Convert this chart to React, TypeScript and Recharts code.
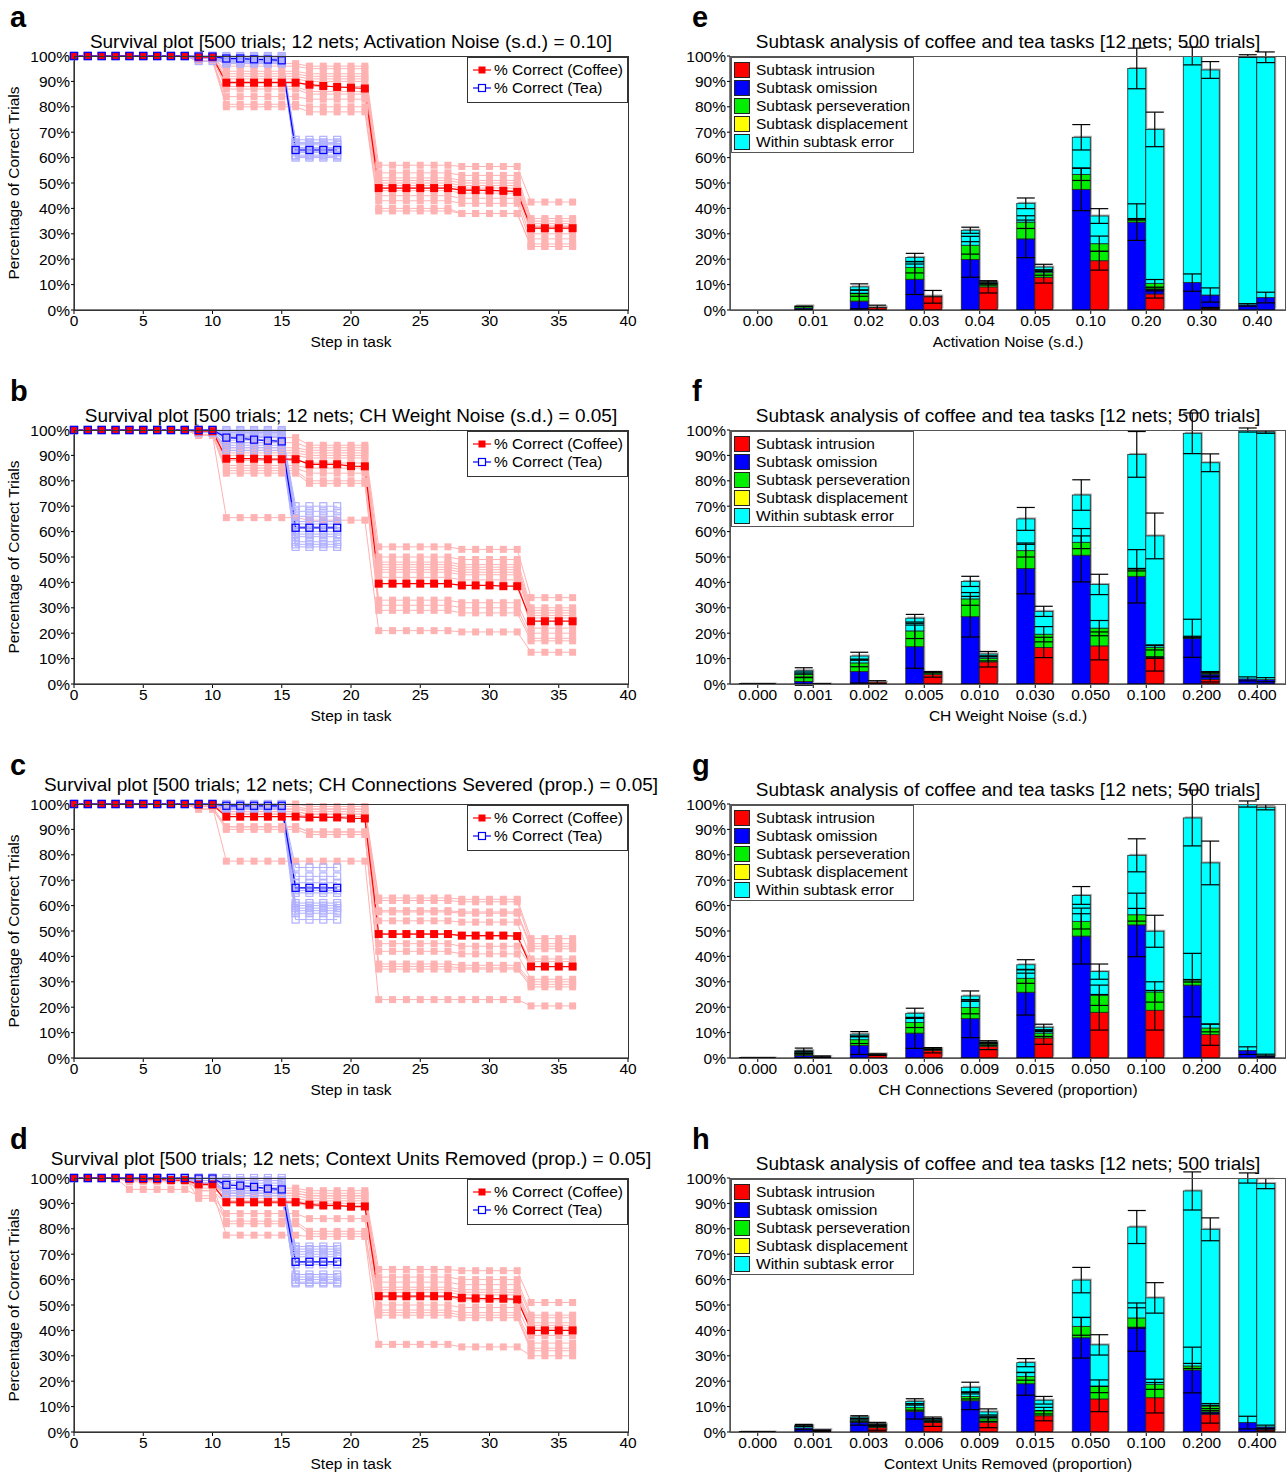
import React from 'react';
import { LineChart, Line, XAxis, YAxis, BarChart, Bar, ErrorBar } from 'recharts';

const FONT = '"Liberation Sans", Arial, Helvetica, sans-serif';
const ROW_H = 374;
const TICK_FS = 15.5;
const TITLE_FS = 19;

// ---------- shared axis data ----------
const stepTicks = [0, 5, 10, 15, 20, 25, 30, 35, 40];
const pctTicks = [0, 10, 20, 30, 40, 50, 60, 70, 80, 90, 100];

// segment start steps for the individual-net step curves
const coffeeSegStarts = [0, 4, 9, 11, 17, 22, 28, 33];
const teaSegStarts = [0, 9, 11, 16];
const COFFEE_STEPS = 37;
const TEA_STEPS = 20;

// ---------- survival plot data ----------
const aCoffeeMean = [100, 100, 100, 100, 100, 100, 100, 100, 100, 99.5, 99.5, 89.5, 89.5, 89.5, 89.5, 89.5, 89.5, 88.7, 88.2, 87.8, 87.5, 87.2, 48, 48, 48, 48, 48, 48, 47.2, 47.2, 47.1, 46.9, 46.5, 32.2, 32.2, 32.2, 32.2];
const aTeaMean = [100, 100, 100, 100, 100, 100, 100, 100, 100, 99.8, 99.8, 99, 99, 98.7, 98.6, 98.3, 63, 63, 63, 63];
const aCoffeeNets = [
  [100, 100, 100, 97, 96, 57, 56.5, 42.5],
  [100, 100, 100, 96, 95, 54, 53, 36],
  [100, 100, 100, 94, 93, 52, 51, 35],
  [100, 100, 100, 93, 92, 51, 50, 34],
  [100, 100, 99, 92, 91, 50, 49, 33],
  [100, 100, 100, 91, 90, 49, 48, 33],
  [100, 100, 99, 90, 88, 48, 47, 32],
  [100, 100, 100, 88, 86, 47, 46, 30],
  [100, 100, 99, 87, 85, 45, 44, 28],
  [100, 100, 98, 84, 83, 43, 42, 26],
  [100, 100, 99, 81, 80, 40, 38, 25],
  [100, 100, 98, 80, 78, 39, 38, 25],
];
const aTeaNets = [
  [100, 100, 100, 67], [100, 100, 99.5, 66], [100, 100, 99, 65.5], [100, 99.5, 99, 65],
  [100, 100, 99, 64], [100, 99, 98.5, 63.5], [100, 100, 98, 63], [100, 99, 98, 62.5],
  [100, 100, 97.5, 62], [100, 99, 97, 61], [100, 100, 99, 60.5], [100, 98, 98, 60],
];

const bCoffeeMean = [100, 100, 100, 100, 100, 100, 100, 100, 100, 99.5, 99.5, 88.7, 88.7, 88.7, 88.5, 88.5, 88.5, 86.5, 86.5, 86.5, 85.8, 85.7, 39.5, 39.5, 39.5, 39.5, 39.5, 39.5, 38.8, 38.8, 38.8, 38.5, 38.5, 24.7, 24.7, 24.7, 24.7];
const bTeaMean = [100, 100, 100, 100, 100, 100, 100, 100, 100, 100, 100, 97, 96.7, 96.2, 95.8, 95.5, 61.5, 61.5, 61.5, 61.5];
const bCoffeeNets = [
  [100, 100, 100, 97, 94, 54, 53, 34],
  [100, 100, 100, 95, 93, 50, 49, 30],
  [100, 100, 99, 93, 92, 48, 47, 29],
  [100, 100, 100, 92, 91, 47, 46, 28],
  [100, 100, 99, 91, 90, 46, 45, 27],
  [100, 100, 98, 90, 89, 45, 44, 26],
  [100, 100, 99, 88, 87, 44, 43, 25],
  [100, 100, 100, 86, 85, 42, 41, 22],
  [100, 100, 98, 85, 83, 33, 32, 20],
  [100, 100, 99, 84, 80, 31, 30, 18],
  [100, 100, 98, 83, 79, 29, 28, 17],
  [100, 100, 98, 65.5, 64.5, 21, 20.5, 12.5],
];
const bTeaNets = [
  [100, 100, 100, 70], [100, 100, 99.5, 68], [100, 100, 99, 66], [100, 100, 98.5, 64],
  [100, 100, 98, 63], [100, 100, 97.5, 62], [100, 100, 97, 60], [100, 100, 96, 59],
  [100, 100, 95, 58], [100, 99, 94, 56], [100, 100, 93, 55], [100, 99, 92, 54],
];

const cCoffeeMean = [100, 100, 100, 100, 100, 100, 100, 100, 100, 99.7, 99.7, 95, 95, 95, 95, 95, 95, 94.7, 94.7, 94.7, 94.3, 94.3, 48.8, 48.8, 48.8, 48.8, 48.8, 48.8, 48.2, 48.2, 48.2, 48.2, 48, 36, 36, 36, 36];
const cTeaMean = [100, 100, 100, 100, 100, 100, 100, 100, 100, 100, 100, 99.3, 99.3, 99.3, 99.3, 99.3, 67, 67, 67, 67];
const cCoffeeNets = [
  [100, 100, 100, 100, 99, 63, 62.5, 47],
  [100, 100, 100, 99, 98, 62, 61.5, 45],
  [100, 100, 100, 98, 98, 58, 57.5, 44],
  [100, 100, 99, 98, 97, 57.5, 57, 43],
  [100, 100, 100, 97, 96, 54, 53.5, 39],
  [100, 100, 99, 97, 96, 49, 48, 38],
  [100, 100, 100, 96, 95, 45, 44, 36],
  [100, 100, 99, 96, 95, 42, 41, 31],
  [100, 100, 98, 91, 89, 37, 36.5, 30],
  [100, 100, 99, 91, 89, 36, 35.5, 29],
  [100, 100, 98, 90, 88, 35, 35, 28],
  [100, 100, 99, 77.5, 77.5, 23, 23, 20.5],
];
const cTeaNets = [
  [100, 100, 100, 75], [100, 100, 100, 71.5], [100, 100, 99.5, 69], [100, 100, 99.5, 67],
  [100, 100, 99, 66], [100, 100, 99, 65], [100, 100, 99, 61], [100, 100, 98.5, 60],
  [100, 100, 98.5, 59], [100, 100, 99, 58], [100, 100, 98, 57], [100, 100, 98, 54.5],
];

const dCoffeeMean = [100, 100, 100, 100, 99.7, 99.5, 99.5, 99.2, 99.2, 97.5, 97.5, 90.5, 90.5, 90.5, 90.5, 90.5, 90.5, 89.5, 89.2, 89.2, 88.7, 88.8, 53.5, 53.5, 53.5, 53.5, 53.5, 53.5, 52.8, 52.6, 52.5, 52.5, 52.2, 40, 40, 40, 40];
const dTeaMean = [100, 100, 100, 100, 100, 100, 100, 100, 100, 99.8, 99.8, 97.3, 97, 96.5, 95.8, 95.5, 67, 67, 67, 67];
const dCoffeeNets = [
  [100, 100, 100, 96, 95, 64, 63.5, 51],
  [100, 100, 99, 95, 94, 61, 60, 46],
  [100, 99, 98, 94, 93, 59, 58, 45],
  [100, 100, 97, 94, 93, 57, 56, 43],
  [100, 100, 98, 93, 92, 56, 55, 42],
  [100, 98.5, 96, 92, 91, 55, 54, 41],
  [100, 100, 99, 91, 90, 53, 52, 40],
  [100, 100, 95, 90, 89, 50, 49, 38],
  [100, 95.5, 93, 86, 84, 48, 47, 35],
  [100, 100, 92, 83, 79, 47, 46, 33],
  [100, 99, 97, 82, 78, 46, 45, 32],
  [100, 100, 95, 77.5, 77, 34.5, 33.5, 30],
];
const dTeaNets = [
  [100, 100, 100, 73], [100, 100, 99, 72], [100, 100, 99, 71], [100, 100, 98, 70],
  [100, 99, 97, 69], [100, 100, 96, 67], [100, 100, 96, 66], [100, 98, 95, 62],
  [100, 100, 94, 61], [100, 99, 95, 60], [100, 100, 93, 59], [100, 98, 94, 58.5],
];

// ---------- subtask bar data ----------
const zero10 = [0, 0, 0, 0, 0, 0, 0, 0, 0, 0];

const eCats = ['0.00', '0.01', '0.02', '0.03', '0.04', '0.05', '0.10', '0.20', '0.30', '0.40'];
const eOmisL = [0, 0.8, 3.5, 12.1, 19.9, 28.0, 47.5, 34.6, 10.8, 2.0];
const ePersL = [0, 0.8, 3.1, 4.7, 5.6, 6.6, 5.9, 1.1, 0, 0];
const eWithL = [0, 0, 2.5, 3.9, 5.9, 7.4, 14.6, 59.4, 89.2, 98.0];
const eIntrR = [0, 0, 0.9, 5.2, 9.1, 12.9, 19.4, 6.3, 0.7, 0];
const eOmisR = [0, 0, 0, 0, 0, 0, 0, 1.8, 5.2, 4.9];
const ePersR = [0, 0, 0.2, 0.3, 1.1, 1.8, 6.7, 2.4, 0, 0];
const eWithR = [0, 0, 0, 0, 0.7, 2.2, 10.9, 60.6, 88.6, 94.6];
const eOmisLErr = [0, 0.6, 3, 6, 7, 7.4, 8.4, 7.2, 3.4, 0.5];
const ePersLErr = [0, 0, 1.2, 2.2, 3.5, 2.5, 2.4, 0.3, 0, 0];
const eWithLErr = [0, 0, 1.2, 1.6, 1.2, 2.1, 5, 8, 3.5, 0.5];
const eIntrRErr = [0, 0, 1, 2.5, 2.4, 2.3, 3.7, 1.6, 0.3, 0];
const eOmisRErr = [0, 0, 0, 0, 0, 0, 0, 0.6, 2.8, 2.1];
const ePersRErr = [0, 0, 0, 0, 0.4, 1, 3, 1.5, 0, 0];
const eWithRErr = [0, 0, 0, 0, 0.5, 1.1, 2.9, 6.8, 3.3, 2.1];

const fCats = ['0.000', '0.001', '0.002', '0.005', '0.010', '0.030', '0.050', '0.100', '0.200', '0.400'];
const fOmisL = [0, 1.0, 4.9, 14.7, 26.5, 45.5, 50.7, 42.4, 18.0, 2.0];
const fPersL = [0, 2.7, 3.4, 6.2, 7.0, 7.0, 5.1, 2.6, 0.5, 0];
const fWithL = [0.2, 1.5, 2.7, 5.0, 6.9, 12.5, 18.6, 45.4, 80.2, 98.0];
const fIntrR = [0, 0, 0.7, 3.7, 8.7, 14.4, 15.0, 10.1, 1.8, 0];
const fOmisR = [0, 0, 0, 0, 0, 0, 0, 0.3, 2.1, 1.7];
const fPersR = [0, 0, 0, 0.9, 1.4, 5.2, 7.0, 4.0, 0.7, 0];
const fWithR = [0.2, 0.2, 0, 0, 1.7, 9.0, 17.2, 43.9, 82.5, 97.5];
const fOmisLErr = [0, 1.5, 4.5, 8.5, 8, 10, 10.5, 10.5, 7.5, 0.8];
const fPersLErr = [0, 1, 1.5, 3, 2.5, 2.5, 2.5, 0.5, 0.3, 0];
const fWithLErr = [0, 1.2, 1.5, 1.5, 2, 4.5, 6, 9, 8, 0.8];
const fIntrRErr = [0, 0, 0.6, 1, 2, 4, 5.5, 5, 1, 0];
const fOmisRErr = [0, 0, 0, 0, 0, 0, 0, 0.3, 0.8, 0.8];
const fPersRErr = [0, 0, 0, 0.3, 1, 3, 3, 1, 0.3, 0];
const fWithRErr = [0, 0, 0, 0, 1, 2, 4, 9, 3.5, 0.5];

const gCats = ['0.000', '0.001', '0.003', '0.006', '0.009', '0.015', '0.050', '0.100', '0.200', '0.400'];
const gOmisL = [0, 1.0, 4.9, 9.8, 15.5, 25.9, 48.0, 52.4, 28.7, 2.9];
const gPersL = [0, 1.0, 2.3, 4.2, 4.4, 5.5, 5.8, 4.0, 1.7, 0];
const gWithL = [0.2, 0.9, 2.2, 3.6, 4.5, 5.3, 10.2, 23.4, 64.1, 97.1];
const gIntrR = [0, 0, 1.3, 3.0, 4.6, 7.9, 18.0, 18.8, 9.2, 0];
const gOmisR = [0, 0.5, 0, 0, 0, 0, 0, 0, 0, 1.0];
const gPersR = [0, 0, 0.3, 0.7, 0.9, 1.9, 6.7, 7.2, 2.6, 0];
const gWithR = [0.2, 0, 0, 0, 0.8, 2.3, 9.3, 23.9, 65.0, 97.7];
const gOmisLErr = [0, 0.8, 3.5, 6, 7.5, 9, 11, 12.5, 12.5, 1.5];
const gPersLErr = [0, 0.5, 1.5, 2, 2.5, 2, 3, 2.5, 0.5, 0];
const gWithLErr = [0, 1, 1, 2, 2, 2, 3.5, 6.5, 11, 1.2];
const gIntrRErr = [0, 0, 0.3, 1, 1.3, 2.5, 7, 7.8, 4.2, 0];
const gOmisRErr = [0, 0.3, 0, 0, 0, 0, 0, 0, 0, 0.5];
const gPersRErr = [0, 0, 0, 0.4, 0.5, 1.3, 4, 4, 1.5, 0];
const gWithRErr = [0, 0, 0, 0, 0.5, 1.2, 3, 6.3, 8.6, 1];

const hCats = ['0.000', '0.001', '0.003', '0.006', '0.009', '0.015', '0.050', '0.100', '0.200', '0.400'];
const hOmisL = [0, 1.6, 3.9, 8.1, 12.3, 19.0, 37.1, 41.3, 24.4, 3.7];
const hPersL = [0, 0, 0.7, 1.5, 1.7, 2.9, 4.5, 3.6, 1.6, 0];
const hWithL = [0.2, 1.0, 1.3, 2.5, 3.6, 5.4, 18.2, 35.8, 68.9, 96.3];
const hIntrR = [0, 0.5, 1.7, 3.7, 3.7, 6.4, 13.0, 13.5, 7.0, 0.9];
const hOmisR = [0, 0.4, 0, 0, 0, 0, 0, 0, 0.9, 1.1];
const hPersR = [0, 0, 0.9, 0.9, 1.5, 2.0, 5.0, 5.3, 2.3, 0];
const hWithR = [0.2, 0, 0.5, 0.5, 2.7, 4.1, 16.3, 34.0, 69.6, 95.8];
const hOmisLErr = [0, 0.7, 1.2, 3, 3.5, 4.5, 8, 9.5, 9, 2.5];
const hPersLErr = [0, 0, 0.6, 1, 1, 1.5, 3.5, 4, 1, 0];
const hWithLErr = [0, 0.4, 0.5, 1, 2, 1.6, 5, 6.5, 7.5, 2];
const hIntrRErr = [0, 0.2, 1, 1.5, 2, 2, 5, 6, 3.5, 0.5];
const hOmisRErr = [0, 0, 0, 0, 0, 0, 0, 0, 0.5, 0.7];
const hPersRErr = [0, 0, 0.5, 0.6, 1, 1.3, 2.5, 2, 1, 0];
const hWithRErr = [0, 0, 0.7, 0.8, 1.2, 1.5, 4, 6, 4.5, 2];

// ---------- series styling ----------
const stackSeries = [
  { key: 'intr', name: 'Subtask intrusion', color: '#ff0000' },
  { key: 'omis', name: 'Subtask omission', color: '#0000ff' },
  { key: 'pers', name: 'Subtask perseveration', color: '#00ee00' },
  { key: 'disp', name: 'Subtask displacement', color: '#ffff00' },
  { key: 'with', name: 'Within subtask error', color: '#00ffff' },
];
const survivalLegend = [
  { name: '% Correct (Coffee)', color: '#ff0000', filled: true },
  { name: '% Correct (Tea)', color: '#0000ff', filled: false },
];
const PINK = '#ffb2b2';
const LIGHT_BLUE = '#b0b0ff';

function expandLevels(levels: number[], starts: number[], n: number) {
  const out: { step: number; v: number }[] = [];
  for (let s = 0; s < n; s++) {
    let seg = 0;
    for (let j = 0; j < starts.length; j++) if (s >= starts[j]) seg = j;
    out.push({ step: s, v: levels[seg] });
  }
  return out;
}
const toSeries = (vals: number[]) => vals.map((v, i) => ({ step: i, v }));

function squareDot(color: string, filled: boolean, size: number) {
  return (p: any) => {
    if (p.cx == null || p.cy == null) return <g key={`e${p.index}`} />;
    return (
      <rect
        key={`d${p.index}`}
        x={p.cx - size / 2}
        y={p.cy - size / 2}
        width={size}
        height={size}
        fill={filled ? color : 'none'}
        stroke={color}
        strokeWidth={filled ? 0 : 1.2}
      />
    );
  };
}

function ShadowBar(p: any) {
  const { x, y, width, height, fill } = p;
  if (!(height > 0) || !(width > 0)) return <g />;
  return (
    <g>
      <rect x={x + 1.5} y={y - 1.5} width={width} height={height} fill="#a8a8a8" />
      <rect x={x} y={y} width={width} height={height} fill={fill} stroke="#222" strokeWidth={0.8} />
    </g>
  );
}

const tickStyle = { fontSize: TICK_FS, fill: '#000', fontFamily: FONT };

function SurvivalPanel(props: any) {
  const { row, letter, title, titleTop, coffeeMean, teaMean, coffeeNets, teaNets } = props;
  const top = row * ROW_H;
  return (
    <div style={{ position: 'absolute', left: 0, top, width: 640, height: ROW_H }}>
      <div style={{ position: 'absolute', left: 10, top: 3, fontSize: 29, fontWeight: 'bold', lineHeight: '29px' }}>{letter}</div>
      <div style={{ position: 'absolute', left: 351 - 400, width: 800, top: titleTop, fontSize: TITLE_FS, lineHeight: '20px', textAlign: 'center', whiteSpace: 'nowrap' }}>{title}</div>
      <LineChart width={640} height={ROW_H} margin={{ top: 56, right: 12, bottom: 34, left: 14 }}>
        <XAxis type="number" dataKey="step" domain={[0, 40]} ticks={stepTicks} height={30} tick={tickStyle} tickSize={4} tickMargin={1} stroke="#000" allowDuplicatedCategory={false} />
        <YAxis type="number" domain={[0, 100]} ticks={pctTicks} width={60} tick={tickStyle} tickSize={3} tickMargin={1} stroke="#000" tickFormatter={(v: number) => `${v}%`} />
        {coffeeNets.map((n: number[], i: number) => (
          <Line key={`cn${i}`} data={expandLevels(n, coffeeSegStarts, COFFEE_STEPS)} dataKey="v" stroke={PINK} strokeWidth={1} dot={squareDot(PINK, true, 7)} activeDot={false} isAnimationActive={false} />
        ))}
        {teaNets.map((n: number[], i: number) => (
          <Line key={`tn${i}`} data={expandLevels(n, teaSegStarts, TEA_STEPS)} dataKey="v" stroke={LIGHT_BLUE} strokeWidth={1} dot={squareDot(LIGHT_BLUE, false, 7)} activeDot={false} isAnimationActive={false} />
        ))}
        <Line data={toSeries(coffeeMean)} dataKey="v" stroke="#ff0000" strokeWidth={1.2} dot={squareDot('#ff0000', true, 8)} activeDot={false} isAnimationActive={false} />
        <Line data={toSeries(teaMean)} dataKey="v" stroke="#0000ff" strokeWidth={1.2} dot={squareDot('#0000ff', false, 7)} activeDot={false} isAnimationActive={false} />
      </LineChart>
      <div style={{ position: 'absolute', left: 74, top: 56, width: 555, height: 255, border: '1px solid #333', boxSizing: 'border-box', pointerEvents: 'none' }} />
      <div style={{ position: 'absolute', left: 467, top: 57, width: 161, height: 46, border: '1px solid #333', background: '#fff', boxSizing: 'border-box' }}>
        {survivalLegend.map((s, i) => (
          <div key={s.name} style={{ position: 'absolute', left: 0, top: 3 + i * 18, height: 18, width: 160, fontSize: TICK_FS, lineHeight: '18px' }}>
            <svg width={22} height={18} style={{ position: 'absolute', left: 4, top: 0 }}>
              <line x1={1} y1={9} x2={19} y2={9} stroke={s.color} strokeWidth={1.2} />
              <rect x={6.5} y={5.5} width={7} height={7} fill={s.filled ? s.color : '#fff'} stroke={s.color} strokeWidth={s.filled ? 0 : 1.2} />
            </svg>
            <span style={{ position: 'absolute', left: 26, top: 0, whiteSpace: 'nowrap' }}>{s.name}</span>
          </div>
        ))}
      </div>
      <div style={{ position: 'absolute', left: 14 - 150, top: 183 - 9, width: 300, height: 18, fontSize: TICK_FS, lineHeight: '18px', textAlign: 'center', transform: 'rotate(-90deg)', whiteSpace: 'nowrap' }}>Percentage of Correct Trials</div>
      <div style={{ position: 'absolute', left: 351 - 150, top: 333, width: 300, fontSize: TICK_FS, lineHeight: '18px', textAlign: 'center' }}>Step in task</div>
    </div>
  );
}

function buildRows(cats: string[], vals: Record<string, number[]>, errs: Record<string, number[]>) {
  return cats.map((c, i) => {
    const r: any = { cat: c };
    Object.keys(vals).forEach((k) => { r[k] = vals[k][i]; });
    Object.keys(errs).forEach((k) => { r[`${k}E`] = errs[k][i]; });
    return r;
  });
}

function SubtaskPanel(props: any) {
  const { row, letter, xLabel, rows } = props;
  const top = row * ROW_H;
  const sides = ['L', 'R'];
  return (
    <div style={{ position: 'absolute', left: 640, top, width: 647, height: ROW_H }}>
      <div style={{ position: 'absolute', left: 52, top: 3, fontSize: 29, fontWeight: 'bold', lineHeight: '29px' }}>{letter}</div>
      <div style={{ position: 'absolute', left: 368 - 400, width: 800, top: 32, fontSize: TITLE_FS, lineHeight: '20px', textAlign: 'center', whiteSpace: 'nowrap' }}>Subtask analysis of coffee and tea tasks [12 nets; 500 trials]</div>
      <BarChart width={647} height={ROW_H} data={rows} margin={{ top: 56, right: 2, bottom: 34, left: 30 }} barCategoryGap="16.7%" barGap={0}>
        <XAxis dataKey="cat" height={30} tick={tickStyle} tickSize={4} tickMargin={1} stroke="#000" interval={0} />
        <YAxis type="number" domain={[0, 100]} allowDataOverflow ticks={pctTicks} width={60} tick={tickStyle} tickSize={3} tickMargin={1} stroke="#000" tickFormatter={(v: number) => `${v}%`} />
        {sides.map((side) =>
          stackSeries.map((s) => (
            <Bar key={`${s.key}${side}`} dataKey={`${s.key}${side}`} stackId={side} fill={s.color} stroke="#222" strokeWidth={0.8} shape={ShadowBar} isAnimationActive={false}>
              <ErrorBar dataKey={`${s.key}${side}E`} width={9} stroke="#000" strokeWidth={1.2} direction="y" />
            </Bar>
          ))
        )}
      </BarChart>
      <div style={{ position: 'absolute', left: 90, top: 56, width: 556, height: 255, border: '1px solid #555', boxSizing: 'border-box', pointerEvents: 'none' }} />
      <div style={{ position: 'absolute', left: 91, top: 57, width: 183, height: 96, border: '1px solid #555', background: '#fff', boxSizing: 'border-box' }}>
        {stackSeries.map((s, i) => (
          <div key={s.key} style={{ position: 'absolute', left: 0, top: 3 + i * 18, height: 18, width: 181, fontSize: TICK_FS, lineHeight: '18px' }}>
            <div style={{ position: 'absolute', left: 2, top: 1, width: 16, height: 16, background: s.color, border: '1px solid #222', boxSizing: 'border-box' }} />
            <span style={{ position: 'absolute', left: 24, top: 0, whiteSpace: 'nowrap' }}>{s.name}</span>
          </div>
        ))}
      </div>
      <div style={{ position: 'absolute', left: 368 - 250, top: 333, width: 500, fontSize: TICK_FS, lineHeight: '18px', textAlign: 'center' }}>{xLabel}</div>
    </div>
  );
}

const eRows = buildRows(eCats,
  { intrL: zero10, omisL: eOmisL, persL: ePersL, dispL: zero10, withL: eWithL, intrR: eIntrR, omisR: eOmisR, persR: ePersR, dispR: zero10, withR: eWithR },
  { omisL: eOmisLErr, persL: ePersLErr, withL: eWithLErr, intrR: eIntrRErr, omisR: eOmisRErr, persR: ePersRErr, withR: eWithRErr });
const fRows = buildRows(fCats,
  { intrL: zero10, omisL: fOmisL, persL: fPersL, dispL: zero10, withL: fWithL, intrR: fIntrR, omisR: fOmisR, persR: fPersR, dispR: zero10, withR: fWithR },
  { omisL: fOmisLErr, persL: fPersLErr, withL: fWithLErr, intrR: fIntrRErr, omisR: fOmisRErr, persR: fPersRErr, withR: fWithRErr });
const gRows = buildRows(gCats,
  { intrL: zero10, omisL: gOmisL, persL: gPersL, dispL: zero10, withL: gWithL, intrR: gIntrR, omisR: gOmisR, persR: gPersR, dispR: zero10, withR: gWithR },
  { omisL: gOmisLErr, persL: gPersLErr, withL: gWithLErr, intrR: gIntrRErr, omisR: gOmisRErr, persR: gPersRErr, withR: gWithRErr });
const hRows = buildRows(hCats,
  { intrL: zero10, omisL: hOmisL, persL: hPersL, dispL: zero10, withL: hWithL, intrR: hIntrR, omisR: hOmisR, persR: hPersR, dispR: zero10, withR: hWithR },
  { omisL: hOmisLErr, persL: hPersLErr, withL: hWithLErr, intrR: hIntrRErr, omisR: hOmisRErr, persR: hPersRErr, withR: hWithRErr });

export default function App() {
  return (
    <div style={{ position: 'absolute', left: 0, top: 0, width: 1287, height: 1476, background: '#fff', fontFamily: FONT, color: '#000', overflow: 'hidden' }}>
      <SurvivalPanel row={0} letter="a" titleTop={32} title="Survival plot [500 trials; 12 nets; Activation Noise (s.d.) = 0.10]" coffeeMean={aCoffeeMean} teaMean={aTeaMean} coffeeNets={aCoffeeNets} teaNets={aTeaNets} />
      <SurvivalPanel row={1} letter="b" titleTop={32} title="Survival plot [500 trials; 12 nets; CH Weight Noise (s.d.) = 0.05]" coffeeMean={bCoffeeMean} teaMean={bTeaMean} coffeeNets={bCoffeeNets} teaNets={bTeaNets} />
      <SurvivalPanel row={2} letter="c" titleTop={27} title="Survival plot [500 trials; 12 nets; CH Connections Severed (prop.) = 0.05]" coffeeMean={cCoffeeMean} teaMean={cTeaMean} coffeeNets={cCoffeeNets} teaNets={cTeaNets} />
      <SurvivalPanel row={3} letter="d" titleTop={27} title="Survival plot [500 trials; 12 nets; Context Units Removed (prop.) = 0.05]" coffeeMean={dCoffeeMean} teaMean={dTeaMean} coffeeNets={dCoffeeNets} teaNets={dTeaNets} />
      <SubtaskPanel row={0} letter="e" xLabel="Activation Noise (s.d.)" rows={eRows} />
      <SubtaskPanel row={1} letter="f" xLabel="CH Weight Noise (s.d.)" rows={fRows} />
      <SubtaskPanel row={2} letter="g" xLabel="CH Connections Severed (proportion)" rows={gRows} />
      <SubtaskPanel row={3} letter="h" xLabel="Context Units Removed (proportion)" rows={hRows} />
    </div>
  );
}
